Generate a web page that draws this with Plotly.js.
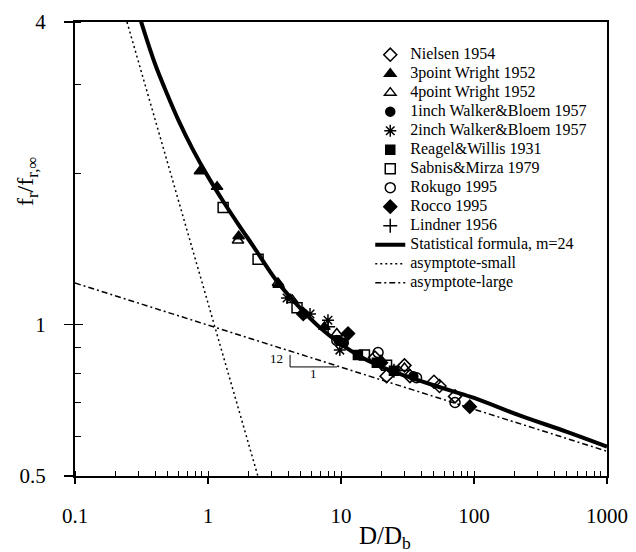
<!DOCTYPE html>
<html>
<head>
<meta charset="utf-8">
<script src="https://cdn.plot.ly/plotly-3.0.1.min.js"></script>
<style>html,body{margin:0;padding:0;background:#fff;}#chart{width:636px;height:552px;}</style>
</head>
<body>
<div id="chart"></div>
<script>
// ---- data (x = D/Db, y = fr/fr,inf) ----
const curveX = [0.31, 0.4, 0.5, 0.6, 0.77, 1.0, 1.3, 1.7, 2.2, 3.3, 5.0, 7.0, 10, 15, 20, 28, 40, 66, 100, 220, 500, 1000];
const curveY = [4.05, 3.3, 2.85, 2.55, 2.23, 1.97, 1.76, 1.58, 1.43, 1.22, 1.075, 0.985, 0.915, 0.855, 0.825, 0.797, 0.772, 0.74, 0.715, 0.66, 0.612, 0.572];

const asymSmallX = [0.246, 2.37];
const asymSmallY = [4.0, 0.5];
const asymLargeX = [0.1, 1000];
const asymLargeY = [1.21, 0.56];

const nielsenX = [18, 22, 30, 33, 50, 55, 72];
const nielsenY = [0.86, 0.79, 0.83, 0.79, 0.77, 0.755, 0.72];
const wright3X = [0.87, 1.17, 1.7, 3.4, 7.5];
const wright3Y = [2.02, 1.88, 1.5, 1.2, 0.99];
const wright4X = [1.68, 3.36, 4.3, 9.3, 20, 30];
const wright4Y = [1.47, 1.21, 1.12, 0.96, 0.85, 0.82];
const wb1X = [9.6, 10.5, 19, 35];
const wb1Y = [0.93, 0.92, 0.84, 0.79];
const wb2X = [3.93, 5.85, 7.98, 9.8];
const wb2Y = [1.13, 1.05, 1.02, 0.89];
const reagelX = [13.4, 18.6, 25];
const reagelY = [0.87, 0.84, 0.81];
const sabnisX = [1.30, 2.38, 4.67, 15, 22];
const sabnisY = [1.71, 1.35, 1.08, 0.87, 0.83];
const rokugoX = [9.3, 19, 37, 72];
const rokugoY = [0.93, 0.88, 0.784, 0.70];
const roccoX = [5.2, 11.3, 20, 93];
const roccoY = [1.05, 0.96, 0.84, 0.687];
const lindnerX = [8, 25];
const lindnerY = [0.99, 0.81];

// slope triangle (12 : 1)
const triX = [4.14, 4.14, 9.33];
const triY = [0.871, 0.824, 0.824];

const xTicks = [0.1, 1, 10, 100, 1000];
const xTickText = ['0.1', '1', '10', '100', '1000'];
const yTicks = [0.5, 1, 4];
const yTickText = ['0.5', '1', '4'];

const serif = 'Liberation Serif, Times New Roman, serif';
const lg = s => '<span style="font-size:16px">' + s + '</span>';
const mk = (name, x, y, symbol, size) => ({
  type: 'scatter', mode: 'markers', name: lg(name), x: x, y: y,
  marker: {symbol: symbol, size: size || 9, color: '#000', line: {color: '#000', width: 1.5}}
});

const traces = [
  mk('Nielsen 1954', nielsenX, nielsenY, 'diamond-open', 10),
  mk('3point Wright 1952', wright3X, wright3Y, 'triangle-up', 10),
  mk('4point Wright 1952', wright4X, wright4Y, 'triangle-up-open', 10),
  mk('1inch Walker&Bloem 1957', wb1X, wb1Y, 'circle', 9),
  mk('2inch Walker&Bloem 1957', wb2X, wb2Y, 'asterisk-open', 10),
  mk('Reagel&Willis 1931', reagelX, reagelY, 'square', 9),
  mk('Sabnis&Mirza 1979', sabnisX, sabnisY, 'square-open', 10),
  mk('Rokugo 1995', rokugoX, rokugoY, 'circle-open', 10),
  mk('Rocco 1995', roccoX, roccoY, 'diamond', 10),
  mk('Lindner 1956', lindnerX, lindnerY, 'cross-thin-open', 10),
  {type: 'scatter', mode: 'lines', name: lg('Statistical formula, m=24'), x: curveX, y: curveY,
   line: {color: '#000', width: 4, shape: 'spline', smoothing: 1}},
  {type: 'scatter', mode: 'lines', name: lg('asymptote-small'), x: asymSmallX, y: asymSmallY,
   line: {color: '#000', width: 1.5, dash: '2px,3px'}},
  {type: 'scatter', mode: 'lines', name: lg('asymptote-large'), x: asymLargeX, y: asymLargeY,
   line: {color: '#000', width: 1.5, dash: '6px,3px,2px,3px'}},
  {type: 'scatter', mode: 'lines', x: triX, y: triY, yaxis: 'y2', showlegend: false, hoverinfo: 'skip',
   line: {color: '#000', width: 1}}
];

const yRange = [Math.log10(0.5), Math.log10(4)];

const layout = {
  width: 636, height: 552,
  margin: {l: 75, r: 29, t: 22, b: 76},
  paper_bgcolor: '#fff', plot_bgcolor: '#fff',
  font: {family: serif, color: '#000', size: 20},
  showlegend: true,
  legend: {x: 0.555, y: 0.96, xanchor: 'left', yanchor: 'top', bgcolor: 'rgba(0,0,0,0)',
           font: {family: serif, size: 12.3, color: '#000'}, tracegroupgap: 0, itemwidth: 30},
  xaxis: {
    type: 'log', range: [-1, 3],
    tickvals: xTicks, ticktext: xTickText,
    ticks: 'outside', ticklen: 6, tickwidth: 1.5, tickcolor: '#000',
    minor: {ticks: 'inside', ticklen: 5, tickwidth: 1, tickcolor: '#000', dtick: 'D1'},
    showline: true, linewidth: 2, linecolor: '#000', mirror: true,
    showgrid: false, zeroline: false,
    tickfont: {family: serif, size: 21, color: '#000'},
    ticklabelstandoff: 14,
    title: {text: ''}
  },
  yaxis: {
    type: 'log', range: yRange,
    tickvals: yTicks, ticktext: yTickText,
    ticks: 'outside', ticklen: 9, tickwidth: 1.5, tickcolor: '#000',
    minor: {ticks: 'inside', ticklen: 6, tickwidth: 1, tickcolor: '#000', dtick: 'D1'},
    showline: true, linewidth: 2, linecolor: '#000', mirror: true,
    showgrid: false, zeroline: false,
    tickfont: {family: serif, size: 21, color: '#000'},
    ticklabelstandoff: 14,
    title: {text: ''}
  },
  yaxis2: {
    type: 'log', range: yRange, overlaying: 'y', side: 'left',
    tickvals: [0.5, 1], ticks: 'inside', ticklen: 8, tickwidth: 1.5, tickcolor: '#000',
    showticklabels: false, showline: false, showgrid: false, zeroline: false
  },
  annotations: [
    {x: Math.log10(3.3), y: Math.log10(0.858), xref: 'x', yref: 'y', text: '12', showarrow: false,
     font: {family: serif, size: 13, color: '#000'}},
    {x: Math.log10(6.2), y: Math.log10(0.80), xref: 'x', yref: 'y', text: '1', showarrow: false,
     font: {family: serif, size: 13, color: '#000'}},
    {xref: 'paper', yref: 'paper', x: (385 - 75) / 532, y: -(537 - 476) / 454, xanchor: 'center', yanchor: 'middle',
     text: 'D/D<sub>b</sub>', showarrow: false, font: {family: serif, size: 25, color: '#000'}},
    {xref: 'paper', yref: 'paper', x: -(75 - 27) / 532, y: (476 - 182) / 454, xanchor: 'center', yanchor: 'middle',
     text: 'f<sub>r</sub>/f<sub>r,∞</sub>', textangle: -90, showarrow: false, font: {family: serif, size: 24, color: '#000'}}
  ]
};

Plotly.newPlot('chart', traces, layout, {displayModeBar: false, staticPlot: true});
</script>
</body>
</html>
